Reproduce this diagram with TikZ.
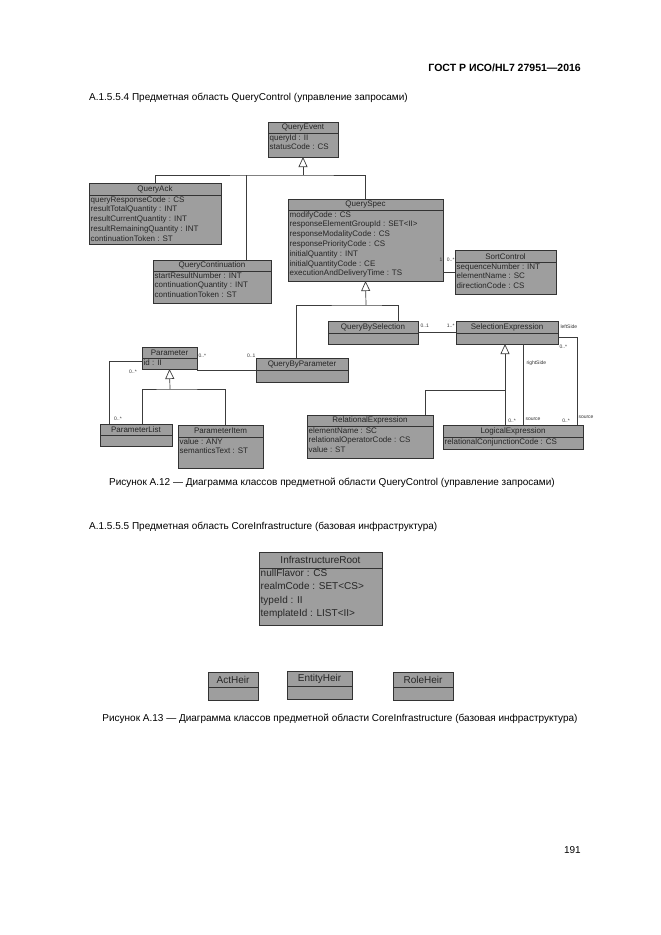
\documentclass[tikz,border=0pt]{standalone}
\usepackage{fontspec}
\setmainfont{Liberation Sans}
\usetikzlibrary{arrows.meta}
\definecolor{boxgray}{RGB}{158,158,158}
\definecolor{linegray}{RGB}{60,60,60}
\newcommand\ufont{\fontsize{8}{9.8}\selectfont}
% name, x, y, width, height, title height, title, attributes
\newcommand\uclass[8]{%
  \node[ubox, minimum width=#4pt, minimum height=#5pt, anchor=north west] (#1) at (#2,#3) {};
  \draw[usep] ([yshift=-#6pt]#1.north west) -- ([yshift=-#6pt]#1.north east);
  \node[utitle, minimum height=#6pt, anchor=north] (#1-t) at (#1.north) {#7};
  \node[uattr, anchor=north west] (#1-a) at ([yshift=-#6pt]#1.north west) {#8};
}
\begin{document}
\begin{tikzpicture}[x=1pt,y=-1pt,
  ubox/.style={draw=black!80, fill=boxgray, line width=0.8pt, inner sep=0pt, outer sep=0pt},
  usep/.style={draw=black!80, line width=0.6pt},
  utitle/.style={font=\ufont, inner sep=0pt, text=black!85},
  uattr/.style={font=\ufont, align=left, inner xsep=1.5pt, inner ysep=1pt, text=black!85},
  conn/.style={draw=linegray, line width=0.7pt},
  gen/.style={conn, -{Triangle[open, length=10pt, width=9pt, fill=white]}},
  mult/.style={font=\fontsize{5}{5.5}\selectfont, inner sep=0.3pt, text=black!80},
  body/.style={font=\fontsize{10}{12}\selectfont, inner sep=0pt}
]
\useasboundingbox[fill=white] (0,0) rectangle (661,935);

% page texts
\node[anchor=east, font=\bfseries\fontsize{10.5}{12}\selectfont, inner sep=0pt] (hdr) at (581,68) {ГОСТ Р ИСО/HL7 27951—2016};
\node[body, anchor=west] (h1) at (89,98) {А.1.5.5.4 Предметная область QueryControl (управление запросами)};
\node[body] (cap1) at (332,483) {Рисунок А.12 — Диаграмма классов предметной области QueryControl (управление запросами)};
\node[body, anchor=west] (h2) at (89,527) {А.1.5.5.5 Предметная область CoreInfrastructure (базовая инфраструктура)};
\node[body] (cap2) at (340,719) {Рисунок А.13 — Диаграмма классов предметной области CoreInfrastructure (базовая инфраструктура)};
\node[body, anchor=east] (pg) at (581,850) {191};

% ---------- diagram A.12 ----------
\uclass{qe}{268}{122}{70}{35}{11}{QueryEvent}{queryId : II\\statusCode : CS}
\uclass{qa}{89}{183}{132}{61}{12}{QueryAck}{queryResponseCode : CS\\resultTotalQuantity : INT\\resultCurrentQuantity : INT\\resultRemainingQuantity : INT\\continuationToken : ST}
\uclass{qs}{288}{199}{155}{82}{11}{QuerySpec}{modifyCode : CS\\responseElementGroupId : SET<II>\\responseModalityCode : CS\\responsePriorityCode : CS\\initialQuantity : INT\\initialQuantityCode : CE\\executionAndDeliveryTime : TS}
\uclass{qc}{153}{260}{118}{43}{11}{QueryContinuation}{startResultNumber : INT\\continuationQuantity : INT\\continuationToken : ST}
\uclass{sc}{455}{250}{101}{44}{12}{SortControl}{sequenceNumber : INT\\elementName : SC\\directionCode : CS}
\uclass{qbs}{328}{321}{90}{23}{12}{QueryBySelection}{}
\uclass{se}{456}{321}{102}{23}{12}{SelectionExpression}{}
\uclass{prm}{142}{347}{55}{22}{11}{Parameter}{id : II}
\uclass{qbp}{256}{358}{92}{24}{12}{QueryByParameter}{}
\uclass{pl}{100}{424}{72}{22}{11}{ParameterList}{}
\uclass{pi}{178}{425}{85}{43}{12}{ParameterItem}{value : ANY\\semanticsText : ST}
\uclass{re}{307}{415}{126}{43}{11}{RelationalExpression}{elementName : SC\\relationalOperatorCode : CS\\value : ST}
\uclass{le}{443}{425}{140}{24}{12}{LogicalExpression}{relationalConjunctionCode : CS}

% generalization QueryEvent
\coordinate (g1) at (303,175);
\draw[conn] (qa.north) |- (g1) -| (qs.north);
\draw[conn] ([xshift=34pt]qc.north) -- ([xshift=34pt]qc.north |- g1);
\draw[gen] (g1) -- (qe.south);

% QuerySpec - SortControl
\draw[conn] (sc.west) -- (sc.west -| qs.east);
\node[mult] (m1) at (441,260) {1};
\node[mult, anchor=east] (m2) at (455,260) {0..*};

% generalization QuerySpec
\coordinate (g2) at (366,305);
\draw[conn] ([xshift=-6pt]qbp.north) |- (g2) -| ([xshift=25pt]qbs.north);
\draw[gen] (g2) -- (qs.south);

% QueryBySelection - SelectionExpression
\draw[conn] (qbs.east) -- (se.west);
\node[mult, anchor=west] (m3) at (420,326) {0..1};
\node[mult, anchor=east] (m4) at (455,326) {1..*};

% Parameter - QueryByParameter
\draw[conn] (qbp.west) -- (qbp.west -| prm.east);
\node[mult, anchor=west] (m5) at (198,356) {0..*};
\node[mult, anchor=east] (m6) at (256,356) {0..1};

% generalization Parameter
\coordinate (g3) at (170,389);
\draw[conn] ([xshift=6pt]pl.north) |- (g3) -| ([xshift=4.5pt]pi.north);
\draw[gen] (g3) -- (prm.south);

% Parameter - ParameterList
\draw[conn] ([yshift=-3pt]prm.west) -| ([xshift=-27pt]pl.north);
\node[mult] (m7) at (133,372) {0..*};
\node[mult] (m8) at (118,419) {0..*};

% generalization SelectionExpression
\coordinate (g4) at (505,390);
\draw[conn] ([xshift=55pt]re.north) |- (g4) -- ([xshift=-8pt]le.north);
\draw[gen] (g4) -- ([xshift=-2pt]se.south);

% LogicalExpression - SelectionExpression associations
\draw[conn] ([xshift=16pt]se.south) -- ([xshift=10pt]le.north);
\node[mult, anchor=west] (m9) at (526,363) {rightSide};
\node[mult] (m10) at (512,421) {0..*};
\node[mult, anchor=west] (m11) at (525,419) {source};
\draw[conn] ([yshift=-5pt]se.east) -| ([xshift=64pt]le.north);
\node[mult, anchor=west] (m12) at (560,327) {leftSide};
\node[mult, anchor=west] (m13) at (559,347) {0..*};
\node[mult] (m14) at (566,421) {0..*};
\node[mult, anchor=west] (m15) at (578,417) {source};

% ---------- diagram A.13 ----------
\renewcommand\ufont{\fontsize{10}{13.5}\selectfont}
\uclass{ir}{259}{552}{123}{73}{16}{InfrastructureRoot}{nullFlavor : CS\\realmCode : SET<CS>\\typeId : II\\templateId : LIST<II>}
\uclass{ah}{208}{672}{50}{28}{15}{ActHeir}{}
\uclass{eh}{287}{671}{65}{28}{15}{EntityHeir}{}
\uclass{rh}{393}{672}{60}{28}{15}{RoleHeir}{}
\end{tikzpicture}
\end{document}
